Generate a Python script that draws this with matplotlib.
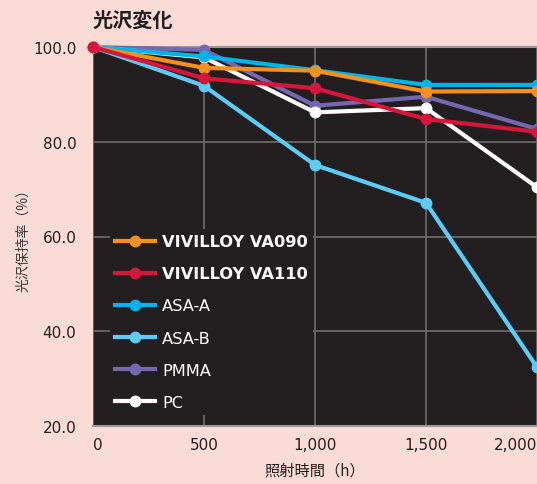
import matplotlib
matplotlib.use("Agg")
import matplotlib.pyplot as plt
from matplotlib.ticker import FuncFormatter

plt.rcParams['font.family'] = ['DejaVu Sans', 'Noto Sans CJK JP']

hours = [0, 500, 1000, 1500, 2000]
series_names = ["VIVILLOY VA090", "VIVILLOY VA110", "ASA-A", "ASA-B", "PMMA", "PC"]
va090 = [100.0, 95.6, 95.0, 90.6, 90.7]
va110 = [100.0, 93.4, 91.3, 84.8, 82.1]
asa_a = [100.0, 98.0, 95.1, 92.0, 92.0]
asa_b = [100.0, 91.8, 75.1, 67.1, 32.4]
pmma = [100.0, 99.4, 87.6, 89.5, 82.7]
pc = [100.0, 97.8, 86.2, 87.1, 70.4]
y_ticks = [20, 40, 60, 80, 100]
x_ticks = [0, 500, 1000, 1500, 2000]
title = "光沢変化"
xlabel = "照射時間（h）"
ylabel = "光沢保持率（%）"

colors = ["#f39020", "#d7163b", "#00b4ea", "#5ccbf5", "#7469b0", "#ffffff"]
values = [va090, va110, asa_a, asa_b, pmma, pc]
zorders = [8, 9, 7, 5, 4, 6]

bg = "#fbdbd6"
plotbg = "#231f20"
textc = "#231f20"
cjk = ['Noto Sans CJK JP', 'DejaVu Sans']

fig = plt.figure(figsize=(5.37, 4.85), dpi=100, facecolor=bg)
ax = fig.add_axes([93/537, 58/485, 1 - 93/537, (427-48)/485])
ax.set_facecolor(plotbg)

handles = {}
for i in range(6):
    ln, = ax.plot(hours, values[i], color=colors[i], lw=3, marker='o', ms=7.5,
                  label=series_names[i], zorder=zorders[i], clip_on=False)
    handles[i] = ln

ax.set_xlim(0, 2000)
ax.set_ylim(20, 100)
ax.set_xticks(x_ticks)
ax.set_yticks(y_ticks)
ax.xaxis.set_major_formatter(FuncFormatter(lambda v, p: f"{int(v):,}"))
ax.yaxis.set_major_formatter(FuncFormatter(lambda v, p: f"{v:.1f}"))
ax.tick_params(axis='both', length=0, labelsize=11, colors=textc)
ax.tick_params(axis='x', pad=8)
ax.tick_params(axis='y', pad=12)
xl = ax.get_xticklabels()
xl[0].set_ha('left')
xl[-1].set_ha('right')

ax.grid(True, color="#6f6c6c", lw=1.2, zorder=1)
ax.set_axisbelow(True)
for s in ['left', 'right']:
    ax.spines[s].set_visible(False)
for s in ['top', 'bottom']:
    ax.spines[s].set_color("#9a9898")
    ax.spines[s].set_linewidth(1.5)

ax.set_xlabel(xlabel, fontsize=11, color=textc, labelpad=7, family=cjk)
ax.set_ylabel(ylabel, fontsize=10, color="#3a3a3a", labelpad=2, family=cjk)
fig.text(93/537, 1 - 20/485, title, fontsize=14.5, fontweight='bold', color=textc,
         ha='left', va='center', family=cjk)

leg = ax.legend([handles[i] for i in range(6)], series_names, loc='upper left',
                bbox_to_anchor=(0.02, 0.54), frameon=True, facecolor=plotbg,
                edgecolor='none', framealpha=1, fontsize=11.7, handlelength=2.45,
                labelspacing=1.05, handletextpad=0.45, borderpad=0.3)
for j, t in enumerate(leg.get_texts()):
    t.set_color('white')
    if j < 2:
        t.set_fontweight('bold')
leg.set_zorder(2)

fig.savefig("out.png", dpi=100, facecolor=bg)
